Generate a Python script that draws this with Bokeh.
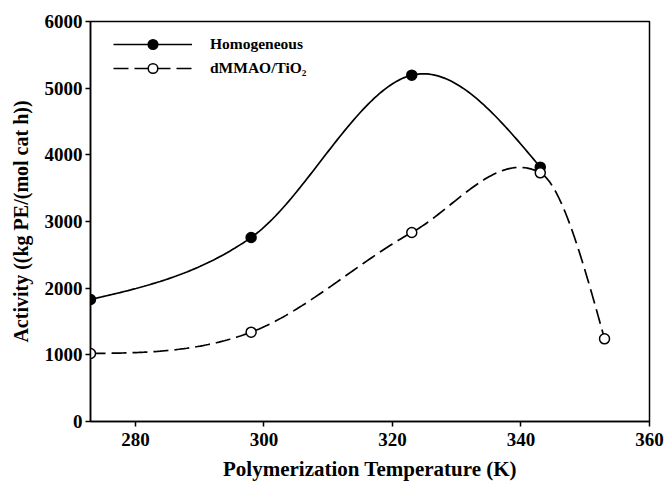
import numpy as np
from bokeh.plotting import figure
from bokeh.models import Legend, LegendItem, FixedTicker, Range1d
from bokeh.embed import file_html
from bokeh.resources import INLINE

# Data
temp_homo = [273, 298, 323, 343]
act_homo = [1830, 2760, 5195, 3815]
temp_tio2 = [273, 298, 323, 343, 353]
act_tio2 = [1020, 1340, 2835, 3730, 1240]

x_ticks = [280, 300, 320, 340, 360]
y_ticks = [0, 1000, 2000, 3000, 4000, 5000, 6000]


def smooth_curve(xs, ys, n_seg=60):
    """Piecewise cubic Hermite curve through the points (finite-difference
    tangents, natural ends) used only to draw the smooth connecting line."""
    xs = np.asarray(xs, float)
    ys = np.asarray(ys, float)
    k = len(xs)
    d = np.diff(ys) / np.diff(xs)
    m = np.zeros(k)
    for i in range(1, k - 1):
        m[i] = (ys[i + 1] - ys[i - 1]) / (xs[i + 1] - xs[i - 1])
    m[0] = (3 * d[0] - m[1]) / 2
    m[-1] = (3 * d[-1] - m[-2]) / 2
    out_x, out_y = [], []
    for i in range(k - 1):
        h = xs[i + 1] - xs[i]
        t = np.linspace(0, 1, n_seg, endpoint=(i == k - 2))
        h00 = 2 * t**3 - 3 * t**2 + 1
        h10 = t**3 - 2 * t**2 + t
        h01 = -2 * t**3 + 3 * t**2
        h11 = t**3 - t**2
        out_x.extend(xs[i] + t * h)
        out_y.extend(h00 * ys[i] + h10 * h * m[i] + h01 * ys[i + 1] + h11 * h * m[i + 1])
    return out_x, out_y


FONT = "Liberation Serif"

p = figure(width=668, height=483, output_backend="svg", toolbar_location=None,
           x_range=Range1d(273, 360), y_range=Range1d(0, 6000),
           min_border_left=90, min_border_right=19, min_border_top=21, min_border_bottom=61)
p.xgrid.visible = False
p.ygrid.visible = False
p.outline_line_color = "black"
p.outline_line_width = 1.5
p.background_fill_color = "white"
p.border_fill_color = "white"

for ax in (p.xaxis[0], p.yaxis[0]):
    ax.axis_line_width = 1.5
    ax.major_tick_line_width = 1.5
    ax.major_tick_out = 5
    ax.major_tick_in = 0
    ax.minor_tick_out = 0
    ax.minor_tick_in = 0
    ax.major_label_text_font = FONT
    ax.major_label_text_font_style = "bold"
    ax.major_label_text_font_size = "19px"
    ax.major_label_text_color = "black"
    ax.axis_label_text_font = FONT
    ax.axis_label_text_font_style = "bold"
    ax.axis_label_text_color = "black"

p.xaxis.axis_label_text_font_size = "21px"
p.yaxis.axis_label_text_font_size = "20px"
p.xaxis.ticker = FixedTicker(ticks=x_ticks)
p.yaxis.ticker = FixedTicker(ticks=y_ticks)
p.xaxis.major_label_standoff = 6
p.yaxis.major_label_standoff = 3
p.xaxis.axis_label = "Polymerization Temperature (K)"
p.yaxis.axis_label = "Activity ((kg PE/(mol cat h))"
p.xaxis.axis_label_standoff = 8
p.yaxis.axis_label_standoff = 10

hx, hy = smooth_curve(temp_homo, act_homo)
tx, ty = smooth_curve(temp_tio2, act_tio2)

l1 = p.line(hx, hy, line_color="black", line_width=1.7)
s1 = p.scatter(temp_homo, act_homo, size=10, marker="circle",
               fill_color="black", line_color="black", line_width=1.5)
l2 = p.line(tx, ty, line_color="black", line_width=1.7, line_dash="15 6")
s2 = p.scatter(temp_tio2, act_tio2, size=10, marker="circle",
               fill_color="white", line_color="black", line_width=1.5)

legend = Legend(items=[
    LegendItem(label="Homogeneous", renderers=[l1, s1]),
    LegendItem(label="dMMAO/TiO\u2082", renderers=[l2, s2]),
], location=(23, 341))
legend.glyph_width = 79
legend.glyph_height = 24
legend.label_height = 24
legend.label_standoff = 18
legend.spacing = 0
legend.padding = 0
legend.margin = 0
legend.border_line_alpha = 0
legend.background_fill_alpha = 0
legend.label_text_font = FONT
legend.label_text_font_style = "bold"
legend.label_text_font_size = "15.5px"
legend.label_text_color = "black"
p.add_layout(legend)

open("out.html", "w").write(file_html(p, INLINE))
